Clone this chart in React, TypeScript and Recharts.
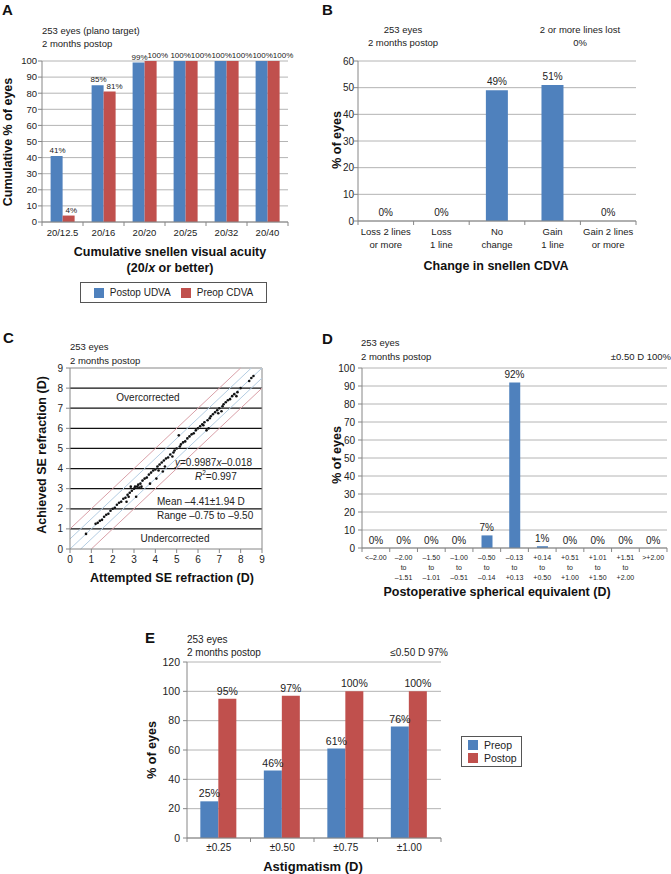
import React from 'react';
import {
  BarChart,
  ComposedChart,
  Bar,
  Line,
  XAxis,
  YAxis,
  CartesianGrid,
  LabelList,
  Legend,
  ScatterChart,
  Scatter,
  ReferenceLine,
} from 'recharts';

const FONT = '"Liberation Sans", Arial, sans-serif';
const BLUE = '#4F81BD';
const RED = '#C0504D';
const GRID = '#b4b4b4';
const AXIS = '#868686';
const INK = '#222';

// A - cumulative snellen visual acuity
const acuityCats = ['20/12.5', '20/16', '20/20', '20/25', '20/32', '20/40'];
const postopUdva = [41, 85, 99, 100, 100, 100];
const preopCdva = [4, 81, 100, 100, 100, 100];
const ticks0to100 = [0, 10, 20, 30, 40, 50, 60, 70, 80, 90, 100];
const acuitySeries = ['Postop UDVA', 'Preop CDVA'];

// B - change in CDVA
const cdvaCats = ['Loss 2 lines\nor more', 'Loss\n1 line', 'No\nchange', 'Gain\n1 line', 'Gain 2 lines\nor more'];
const cdvaPct = [0, 0, 49, 51, 0];
const ticks0to60 = [0, 10, 20, 30, 40, 50, 60];

// C - attempted vs achieved SE (D)
const seTicks = [0, 1, 2, 3, 4, 5, 6, 7, 8, 9];
const seLines = [1, 2, 3, 4, 5, 6, 7, 8];
const attemptedAchieved: [number, number][] = [
  [0.75, 0.75], [1.2, 1.25], [1.3, 1.3], [1.4, 1.4], [1.5, 1.45], [1.6, 1.6], [1.7, 1.7],
  [1.8, 1.75], [1.9, 1.9], [2.0, 2.0], [2.1, 2.05], [2.2, 2.2], [2.3, 2.3], [2.4, 2.35],
  [2.5, 2.5], [2.6, 2.55], [2.65, 2.35], [2.7, 2.7], [2.75, 2.6], [2.8, 2.8], [2.85, 3.1],
  [2.9, 2.9], [3.0, 3.0], [3.05, 3.1], [3.1, 2.6], [3.15, 3.1], [3.2, 3.2], [3.25, 3.05],
  [3.3, 3.25], [3.35, 3.1], [3.4, 3.4], [3.5, 3.5], [3.6, 3.55], [3.7, 3.7], [3.75, 3.25],
  [3.8, 3.8], [3.9, 3.9], [4.0, 3.95], [4.05, 3.5], [4.1, 4.1], [4.15, 3.9], [4.2, 4.2],
  [4.3, 4.3], [4.35, 3.85], [4.4, 4.4], [4.45, 4.1], [4.5, 4.5], [4.6, 4.55], [4.7, 4.7],
  [4.8, 4.6], [4.85, 4.8], [4.9, 4.9], [5.0, 5.0], [5.1, 5.65], [5.15, 5.1], [5.2, 5.2],
  [5.3, 5.3], [5.4, 5.35], [5.5, 5.5], [5.6, 5.6], [5.7, 5.7], [5.8, 5.75], [5.9, 5.9],
  [6.0, 6.0], [6.1, 6.1], [6.2, 6.2], [6.25, 6.15], [6.3, 6.3], [6.4, 5.9], [6.45, 6.4],
  [6.5, 6.0], [6.55, 6.5], [6.6, 6.6], [6.7, 6.7], [6.8, 6.8], [6.9, 6.9], [6.95, 6.75],
  [7.0, 7.0], [7.1, 6.85], [7.15, 7.1], [7.2, 7.2], [7.3, 7.3], [7.4, 7.4], [7.5, 7.45],
  [7.6, 7.6], [7.7, 7.7], [7.8, 7.6], [7.85, 7.8], [8.0, 8.0], [8.4, 8.35], [8.5, 8.5],
  [8.6, 8.6],
];

// D - postoperative spherical equivalent
const seBins = [
  '<–2.00', '–2.00\nto\n–1.51', '–1.50\nto\n–1.01', '–1.00\nto\n–0.51', '–0.50\nto\n–0.14',
  '–0.13\nto\n+0.13', '+0.14\nto\n+0.50', '+0.51\nto\n+1.00', '+1.01\nto\n+1.50',
  '+1.51\nto\n+2.00', '>+2.00',
];
const sePct = [0, 0, 0, 0, 7, 92, 1, 0, 0, 0, 0];

// E - astigmatism
const astigCats = ['±0.25', '±0.50', '±0.75', '±1.00'];
const astigPreop = [25, 46, 61, 76];
const astigPostop = [95, 97, 100, 100];
const ticks0to120 = [0, 20, 40, 60, 80, 100, 120];
const astigSeries = ['Preop', 'Postop'];

// rough width of a "NN%" label in Arial metrics
const labelW = (v: number, fs: number) => (String(v).length * 0.556 + 0.889) * fs;

type TxtProps = {
  x: number;
  y: number;
  children: React.ReactNode;
  a?: 'start' | 'middle' | 'end';
  fs?: number;
  bold?: boolean;
  rot?: boolean;
};

function Txt({ x, y, children, a = 'start', fs = 9.5, bold = false, rot = false }: TxtProps) {
  const tx = a === 'start' ? '0' : a === 'middle' ? '-50%' : '-100%';
  return (
    <div
      style={{
        position: 'absolute',
        left: x,
        top: y,
        fontSize: fs,
        fontWeight: bold ? 700 : 400,
        lineHeight: 1,
        whiteSpace: 'nowrap',
        color: bold ? '#111' : INK,
        transform: rot ? 'translate(-50%,-50%) rotate(-90deg)' : `translate(${tx},-50%)`,
      }}
    >
      {children}
    </div>
  );
}

// category tick with Excel-style marks between the categories
function CatTick(props: any) {
  const { x, y, payload, index, band, n, fs, lh, dy } = props;
  const lines = String(payload.value).split('\n');
  return (
    <g>
      <line x1={x - band / 2} x2={x - band / 2} y1={y} y2={y + 4} stroke={AXIS} />
      {index === n - 1 && <line x1={x + band / 2} x2={x + band / 2} y1={y} y2={y + 4} stroke={AXIS} />}
      <text x={x} y={y + dy} textAnchor="middle" fontSize={fs} fill={INK} fontFamily={FONT}>
        {lines.map((l, i) => (
          <tspan key={i} x={x} dy={i === 0 ? 0 : lh}>
            {l}
          </tspan>
        ))}
      </text>
    </g>
  );
}

// value label drawn above a bar or point, optional sideways shift
const pctLabel = (fs: number, off: number, shift?: (p: any) => number) => (p: any) => {
  const { x, y, width, value } = p;
  if (value == null) return null;
  const cx = Number(x) + (Number(width) || 0) / 2 + (shift ? shift(p) : 0);
  return (
    <text x={cx} y={Number(y) - off} textAnchor="middle" fontSize={fs} fill={INK} fontFamily={FONT}>
      {`${value}%`}
    </text>
  );
};

function BoxLegend({ payload, vertical, order }: any) {
  const items = [...(payload || [])].sort((a: any, b: any) => order.indexOf(a.value) - order.indexOf(b.value));
  return (
    <div
      style={{
        border: '1px solid #555',
        boxSizing: 'border-box',
        width: '100%',
        height: '100%',
        display: 'flex',
        flexDirection: vertical ? 'column' : 'row',
        justifyContent: 'center',
        alignItems: vertical ? 'flex-start' : 'center',
        padding: vertical ? '0 0 0 6px' : 0,
        gap: vertical ? 3 : 10,
        fontFamily: FONT,
        fontSize: vertical ? 10.5 : 10,
        color: INK,
      }}
    >
      {items.map((p: any) => (
        <div key={p.value} style={{ display: 'flex', alignItems: 'center', lineHeight: 1 }}>
          <span style={{ width: 10, height: 10, background: p.color, marginRight: 6, display: 'inline-block' }} />
          {p.value}
        </div>
      ))}
    </div>
  );
}

const yTick = (fs: number) => ({ fontSize: fs, fill: INK, fontFamily: FONT });

function PanelA() {
  const rows = acuityCats.map((c, i) => ({ cat: c, udva: postopUdva[i], cdva: preopCdva[i] }));
  // push the red label right when it would collide with the blue one
  const redShift = (p: any) => {
    const need = (labelW(postopUdva[p.index], 8) + labelW(Number(p.value), 8)) / 2 + 1;
    return Math.max(0, need - Number(p.width));
  };
  return (
    <div style={{ position: 'absolute', left: 0, top: 0 }}>
      <BarChart width={330} height={310} data={rows} margin={{ top: 61, right: 42, left: 12, bottom: 68 }} barCategoryGap="21%" barGap={0}>
        <CartesianGrid vertical={false} stroke={GRID} />
        <XAxis dataKey="cat" interval={0} height={20} tickSize={0} tickMargin={0} tickLine={false} axisLine={{ stroke: AXIS }}
          tick={(p: any) => <CatTick {...p} band={41} n={6} fs={9.5} lh={12} dy={13.5} />} />
        <YAxis width={30} domain={[0, 100]} ticks={ticks0to100} interval={0} tickSize={4} tickMargin={1}
          axisLine={{ stroke: AXIS }} tickLine={{ stroke: AXIS }} tick={yTick(9.5)} />
        <Bar dataKey="udva" name={acuitySeries[0]} fill={BLUE} isAnimationActive={false}>
          <LabelList dataKey="udva" content={pctLabel(8, 3, () => 1)} />
        </Bar>
        <Bar dataKey="cdva" name={acuitySeries[1]} fill={RED} isAnimationActive={false}>
          <LabelList dataKey="cdva" content={pctLabel(8, 3, redShift)} />
        </Bar>
        <Legend layout="horizontal" verticalAlign="middle" align="center"
          wrapperStyle={{ left: 80, top: 282, width: 187, height: 21 }}
          content={(p: any) => <BoxLegend payload={p.payload} order={acuitySeries} />} />
      </BarChart>
    </div>
  );
}

function PanelB() {
  const rows = cdvaCats.map((c, i) => ({ cat: c, v: cdvaPct[i] }));
  return (
    <div style={{ position: 'absolute', left: 330, top: 0 }}>
      <ComposedChart width={341} height={300} data={rows} margin={{ top: 61, right: 35, left: 8, bottom: 49 }} barCategoryGap="30%">
        <CartesianGrid vertical={false} stroke={GRID} />
        <XAxis dataKey="cat" interval={0} height={30} tickSize={0} tickMargin={0} tickLine={false} axisLine={{ stroke: AXIS }}
          tick={(p: any) => <CatTick {...p} band={55.6} n={5} fs={9.5} lh={13} dy={13.5} />} />
        <YAxis width={20} domain={[0, 60]} ticks={ticks0to60} interval={0} tickSize={4} tickMargin={0}
          axisLine={{ stroke: AXIS }} tickLine={{ stroke: AXIS }} tick={yTick(10)} />
        <Bar dataKey="v" name="% of eyes" fill={BLUE} isAnimationActive={false} />
        {/* invisible line only carries the value labels, so 0% shows too */}
        <Line dataKey="v" stroke="none" dot={false} activeDot={false} legendType="none" isAnimationActive={false}>
          <LabelList dataKey="v" content={pctLabel(10, 5)} />
        </Line>
      </ComposedChart>
    </div>
  );
}

function PanelC() {
  const pts = attemptedAchieved.map(([x, y]) => ({ x, y }));
  return (
    <div style={{ position: 'absolute', left: 0, top: 300 }}>
      <ScatterChart width={330} height={290} margin={{ top: 68, right: 68, left: 50, bottom: 21 }}>
        <XAxis type="number" dataKey="x" domain={[0, 9]} ticks={seTicks} interval={0} height={20} tickSize={4} tickMargin={3}
          axisLine={{ stroke: AXIS }} tickLine={{ stroke: AXIS }} tick={yTick(10)} />
        <YAxis type="number" dataKey="y" domain={[0, 9]} ticks={seTicks} interval={0} width={20} tickSize={4} tickMargin={3}
          axisLine={{ stroke: AXIS }} tickLine={{ stroke: AXIS }} tick={yTick(10)} />
        {seLines.map((v) => (
          <ReferenceLine key={v} y={v} stroke="#111" strokeWidth={1.3} />
        ))}
        <ReferenceLine y={9} stroke={AXIS} />
        <ReferenceLine x={9} stroke={AXIS} />
        <ReferenceLine segment={[{ x: 0, y: 1 }, { x: 8, y: 9 }]} stroke="#d9a0a8" />
        <ReferenceLine segment={[{ x: 0, y: 0.5 }, { x: 8.5, y: 9 }]} stroke="#b4cde2" />
        <ReferenceLine segment={[{ x: 0, y: 0 }, { x: 9, y: 9 }]} stroke="#b4cde2" />
        <ReferenceLine segment={[{ x: 0.5, y: 0 }, { x: 9, y: 8.5 }]} stroke="#b4cde2" />
        <ReferenceLine segment={[{ x: 1, y: 0 }, { x: 9, y: 8 }]} stroke="#d9a0a8" />
        <Scatter data={pts} isAnimationActive={false}
          shape={(p: any) => <circle cx={p.cx} cy={p.cy} r={1.3} fill="#111" />} />
      </ScatterChart>
    </div>
  );
}

function PanelD() {
  const rows = seBins.map((c, i) => ({ cat: c, v: sePct[i] }));
  return (
    <div style={{ position: 'absolute', left: 330, top: 300 }}>
      <ComposedChart width={341} height={300} data={rows} margin={{ top: 68, right: 4, left: 10, bottom: 12 }} barCategoryGap="31%">
        <CartesianGrid vertical={false} stroke={GRID} />
        <XAxis dataKey="cat" interval={0} height={40} tickSize={0} tickMargin={0} tickLine={false} axisLine={{ stroke: AXIS }}
          tick={(p: any) => <CatTick {...p} band={27.7} n={11} fs={7} lh={10} dy={12} />} />
        <YAxis width={22} domain={[0, 100]} ticks={ticks0to100} interval={0} tickSize={4} tickMargin={3}
          axisLine={{ stroke: AXIS }} tickLine={{ stroke: AXIS }} tick={yTick(10)} />
        <Bar dataKey="v" name="% of eyes" fill={BLUE} isAnimationActive={false} />
        <Line dataKey="v" stroke="none" dot={false} activeDot={false} legendType="none" isAnimationActive={false}>
          <LabelList dataKey="v" content={pctLabel(10, 4.5)} />
        </Line>
      </ComposedChart>
    </div>
  );
}

function PanelE() {
  const rows = astigCats.map((c, i) => ({ cat: c, pre: astigPreop[i], post: astigPostop[i] }));
  return (
    <div style={{ position: 'absolute', left: 100, top: 590 }}>
      <BarChart width={470} height={284} data={rows} margin={{ top: 72, right: 129, left: 61, bottom: 16 }} barCategoryGap="21%" barGap={0}>
        <CartesianGrid vertical={false} stroke={GRID} />
        <XAxis dataKey="cat" interval={0} height={20} tickSize={0} tickMargin={0} tickLine={false} axisLine={{ stroke: AXIS }}
          tick={(p: any) => <CatTick {...p} band={63.5} n={4} fs={10} lh={12} dy={13} />} />
        <YAxis width={26} domain={[0, 120]} ticks={ticks0to120} interval={0} tickSize={4} tickMargin={3}
          axisLine={{ stroke: AXIS }} tickLine={{ stroke: AXIS }} tick={yTick(10.5)} />
        <Bar dataKey="pre" name={astigSeries[0]} fill={BLUE} isAnimationActive={false}>
          <LabelList dataKey="pre" content={pctLabel(10.5, 4)} />
        </Bar>
        <Bar dataKey="post" name={astigSeries[1]} fill={RED} isAnimationActive={false}>
          <LabelList dataKey="post" content={pctLabel(10.5, 4)} />
        </Bar>
        <Legend layout="vertical" verticalAlign="middle" align="center"
          wrapperStyle={{ left: 361, top: 146, width: 61, height: 31 }}
          content={(p: any) => <BoxLegend payload={p.payload} vertical order={astigSeries} />} />
      </BarChart>
    </div>
  );
}

export default function App() {
  return (
    <div
      style={{
        position: 'absolute',
        left: 0,
        top: 0,
        width: 671,
        height: 874,
        background: '#fff',
        fontFamily: FONT,
        color: INK,
        overflow: 'hidden',
      }}
    >
      <PanelA />
      <PanelB />
      <PanelC />
      <PanelD />
      <PanelE />

      {/* panel letters */}
      <Txt x={2} y={9} fs={15} bold>A</Txt>
      <Txt x={322} y={9} fs={15} bold>B</Txt>
      <Txt x={3} y={337} fs={15} bold>C</Txt>
      <Txt x={322} y={338} fs={15} bold>D</Txt>
      <Txt x={145} y={637} fs={15} bold>E</Txt>

      {/* A */}
      <Txt x={42} y={31}>253 eyes (plano target)</Txt>
      <Txt x={42} y={43.5}>2 months postop</Txt>
      <Txt x={8} y={142} fs={12.5} bold rot>Cumulative % of eyes</Txt>
      <Txt x={170} y={252} fs={12.5} bold a="middle">Cumulative snellen visual acuity</Txt>
      <Txt x={170} y={268} fs={12.5} bold a="middle">(20/<i>x</i> or better)</Txt>

      {/* B */}
      <Txt x={403} y={30} a="middle">253 eyes</Txt>
      <Txt x={403} y={43} a="middle">2 months postop</Txt>
      <Txt x={580} y={30} a="middle">2 or more lines lost</Txt>
      <Txt x={580} y={43} a="middle">0%</Txt>
      <Txt x={337} y={140} fs={12.5} bold rot>% of eyes</Txt>
      <Txt x={496} y={266} fs={12.5} bold a="middle">Change in snellen CDVA</Txt>

      {/* C */}
      <Txt x={70} y={347}>253 eyes</Txt>
      <Txt x={70} y={361}>2 months postop</Txt>
      <Txt x={42} y={455} fs={12.5} bold rot>Achieved SE refraction (D)</Txt>
      <Txt x={172} y={578} fs={12.5} bold a="middle">Attempted SE refraction (D)</Txt>
      <Txt x={148} y={398} fs={10} a="middle">Overcorrected</Txt>
      <Txt x={175} y={463} fs={10}><i>y</i>=0.9987<i>x</i>–0.018</Txt>
      <Txt x={195} y={476} fs={10}><i>R</i><sup style={{ fontSize: 6.5 }}>2</sup>=0.997</Txt>
      <Txt x={157} y={502} fs={10}>Mean –4.41±1.94 D</Txt>
      <Txt x={157} y={516} fs={10}>Range –0.75 to –9.50</Txt>
      <Txt x={175} y={539} fs={10} a="middle">Undercorrected</Txt>

      {/* D */}
      <Txt x={361} y={343}>253 eyes</Txt>
      <Txt x={361} y={357}>2 months postop</Txt>
      <Txt x={671} y={357} a="end">±0.50 D 100%</Txt>
      <Txt x={337} y={455} fs={12.5} bold rot>% of eyes</Txt>
      <Txt x={497} y={592} fs={12.5} bold a="middle">Postoperative spherical equivalent (D)</Txt>

      {/* E */}
      <Txt x={187} y={640} fs={10}>253 eyes</Txt>
      <Txt x={187} y={653} fs={10}>2 months postop</Txt>
      <Txt x={448} y={653} fs={10} a="end">≤0.50 D 97%</Txt>
      <Txt x={152} y={750} fs={12.5} bold rot>% of eyes</Txt>
      <Txt x={313} y={866} fs={13} bold a="middle">Astigmatism (D)</Txt>
    </div>
  );
}
